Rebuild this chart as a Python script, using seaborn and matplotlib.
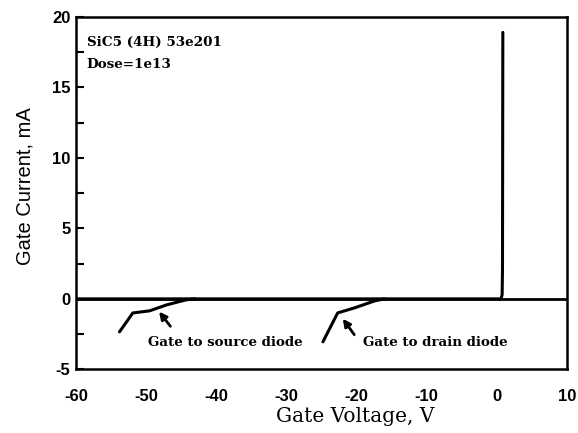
import matplotlib
matplotlib.use("Agg")
import matplotlib.pyplot as plt
import seaborn as sns
import numpy as np
import pandas as pd

# Gate current vs gate voltage for the SiC5 (4H) MESFET, dose 1e13
forward_v = [-60, -45, -20, 0.6, 0.75, 0.8, 0.85]
forward_i = [0, 0, 0, 0, 0.3, 2.0, 18.9]

source_v = [-53.8, -51.9, -49.5, -47.1, -44.3, -43.0]
source_i = [-2.34, -1.0, -0.85, -0.43, -0.07, 0.0]

drain_v = [-24.8, -22.7, -20.3, -17.4, -16.0]
drain_i = [-3.05, -1.0, -0.64, -0.14, 0.0]

x_ticks = [-60, -50, -40, -30, -20, -10, 0, 10]
y_ticks = [-5, 0, 5, 10, 15, 20]

SERIF = ["DejaVu Serif"]

sns.set_theme(style="white", rc={
    "text.color": "black",
    "axes.labelcolor": "black",
    "xtick.color": "black",
    "ytick.color": "black",
    "axes.edgecolor": "black",
})
plt.rcParams["font.family"] = ["Liberation Sans", "DejaVu Sans"]

fig = plt.figure(figsize=(5.78, 4.33), dpi=100)
ax = fig.add_axes([0.1315, 0.147, 0.8495, 0.814])

frames = [
    pd.DataFrame({"V": forward_v, "I": forward_i, "branch": "forward"}),
    pd.DataFrame({"V": source_v, "I": source_i, "branch": "source"}),
    pd.DataFrame({"V": drain_v, "I": drain_i, "branch": "drain"}),
]
for df in frames:
    sns.lineplot(data=df, x="V", y="I", sort=False, estimator=None,
                 color="black", linewidth=2.2, ax=ax, legend=False)
ax.axhline(0, color="black", linewidth=2.0)

ax.set_xlim(-60, 10)
ax.set_ylim(-5, 20)
ax.set_xticks(x_ticks)
ax.set_yticks(y_ticks)
ax.set_xticklabels([str(t) for t in x_ticks], fontsize=12, fontweight="bold")
ax.set_yticklabels([str(t) for t in y_ticks], fontsize=12, fontweight="bold")
ax.set_yticks(np.arange(-5, 20.01, 2.5), minor=True)
ax.tick_params(axis="y", which="both", direction="in", length=6, width=1.5,
               left=True, pad=4)
ax.tick_params(axis="x", which="both", bottom=False, pad=8)
for s in ax.spines.values():
    s.set_linewidth(1.8)

ax.set_xlabel("Gate Voltage, V", family=SERIF, fontsize=14.5)
ax.xaxis.set_label_coords(0.568, -0.108)
ax.set_ylabel("Gate Current, mA", fontsize=14.5)
ax.yaxis.set_label_coords(-0.085, 0.52)

ax.text(-58.5, 18.2, "SiC5 (4H) 53e201", family=SERIF,
        fontsize=9.7, fontweight="bold", va="center", ha="left")
ax.text(-58.5, 16.6, "Dose=1e13", family=SERIF,
        fontsize=9.7, fontweight="bold", va="center", ha="left")

arrow = dict(arrowstyle="-|>", color="black", lw=2.0, mutation_scale=11)
ax.annotate("", xy=(-48.4, -0.75), xytext=(-46.3, -2.1), arrowprops=arrow)
ax.annotate("", xy=(-22.2, -1.25), xytext=(-20.1, -2.7), arrowprops=arrow)
ax.text(-49.8, -3.12, "Gate to source diode", family=SERIF,
        fontsize=9.6, fontweight="bold", va="center", ha="left")
ax.text(-19.1, -3.12, "Gate to drain diode", family=SERIF,
        fontsize=9.6, fontweight="bold", va="center", ha="left")

fig.savefig("out.png", dpi=100)
